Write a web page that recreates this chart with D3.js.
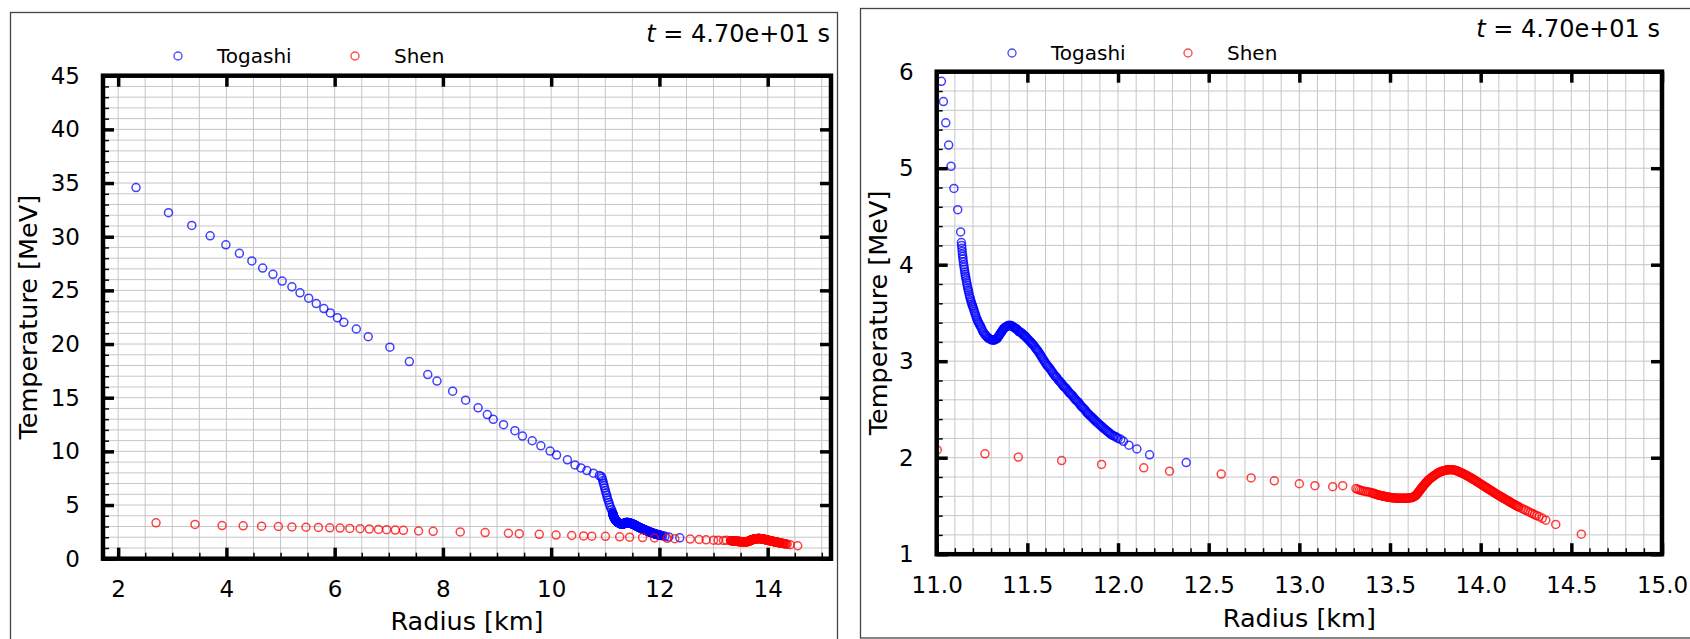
<!DOCTYPE html>
<html>
<head>
<meta charset="utf-8">
<script src="https://cdn.jsdelivr.net/npm/d3@7"></script>
<style>
  body { margin: 0; background: #fff; }
  svg { display: block; font-family: "DejaVu Sans", sans-serif; }
</style>
</head>
<body>
<div id="chart"></div>
<script>
"use strict";

// Temperature profiles at t = 47 s, [radius km, temperature MeV]
const togashiPoints = [
    [2.33, 34.58], [2.93, 32.24], [3.36, 31.05], [3.70, 30.08], [3.99, 29.24], [4.24, 28.45],
    [4.47, 27.74], [4.67, 27.08], [4.86, 26.49], [5.03, 25.87], [5.21, 25.33], [5.36, 24.77],
    [5.52, 24.27], [5.66, 23.77], [5.80, 23.30], [5.92, 22.90], [6.05, 22.46], [6.17, 22.02],
    [6.40, 21.40], [6.62, 20.68], [7.02, 19.71], [7.38, 18.37], [7.72, 17.15], [7.89, 16.55],
    [8.18, 15.61], [8.42, 14.77], [8.65, 14.06], [8.82, 13.43], [8.93, 12.99], [9.12, 12.49],
    [9.33, 11.93], [9.47, 11.43], [9.65, 10.99], [9.81, 10.52], [9.98, 10.03], [10.10, 9.65],
    [10.30, 9.21], [10.44, 8.74], [10.55, 8.46], [10.66, 8.21], [10.78, 7.97], [10.89, 7.74],
    [10.925, 7.66], [10.941, 7.50], [10.953, 7.27], [10.965, 7.04], [10.977, 6.81], [10.989, 6.58],
    [11.001, 6.35], [11.013, 6.12], [11.026, 5.90], [11.037, 5.69], [11.050, 5.47], [11.066, 5.24],
    [11.079, 5.02], [11.095, 4.79], [11.116, 4.57], [11.132, 4.34],
    [11.136, 4.23], [11.1375, 4.20], [11.139, 4.17], [11.1405, 4.14], [11.142, 4.11], [11.1435, 4.085],
    [11.145, 4.06], [11.147, 4.03], [11.149, 4.00], [11.151, 3.975], [11.153, 3.95], [11.155, 3.925],
    [11.157, 3.90], [11.159, 3.88], [11.161, 3.86], [11.1635, 3.835], [11.166, 3.81], [11.1685, 3.785],
    [11.171, 3.76], [11.1735, 3.74], [11.176, 3.72], [11.179, 3.695], [11.182, 3.67], [11.185, 3.65],
    [11.188, 3.63], [11.191, 3.61], [11.194, 3.59], [11.197, 3.575], [11.200, 3.56], [11.2035, 3.54],
    [11.207, 3.52], [11.2105, 3.50], [11.214, 3.48], [11.2175, 3.46], [11.221, 3.44], [11.2245, 3.425],
    [11.228, 3.41], [11.232, 3.395], [11.236, 3.38], [11.2405, 3.365], [11.245, 3.35], [11.2495, 3.33],
    [11.254, 3.31], [11.259, 3.295], [11.264, 3.28], [11.269, 3.27], [11.274, 3.26], [11.279, 3.25],
    [11.284, 3.24], [11.289, 3.235], [11.294, 3.23], [11.2985, 3.225], [11.303, 3.22], [11.3075, 3.22],
    [11.312, 3.22], [11.316, 3.22], [11.320, 3.22], [11.324, 3.225], [11.328, 3.23], [11.3315, 3.235],
    [11.335, 3.24], [11.3385, 3.25], [11.342, 3.26], [11.3455, 3.27], [11.349, 3.28], [11.3525, 3.29],
    [11.356, 3.30], [11.3595, 3.31], [11.363, 3.32], [11.3665, 3.33], [11.370, 3.34], [11.374, 3.345],
    [11.378, 3.35], [11.382, 3.355], [11.386, 3.36], [11.390, 3.365], [11.394, 3.37], [11.398, 3.37],
    [11.402, 3.37], [11.406, 3.37], [11.410, 3.37], [11.414, 3.365], [11.418, 3.36], [11.422, 3.355],
    [11.426, 3.35], [11.430, 3.345], [11.434, 3.34], [11.4385, 3.335], [11.443, 3.33], [11.4475, 3.32],
    [11.452, 3.31], [11.4565, 3.305], [11.461, 3.30], [11.4655, 3.295], [11.470, 3.29], [11.4745, 3.28],
    [11.479, 3.27], [11.4835, 3.265], [11.488, 3.26], [11.4925, 3.25], [11.497, 3.24], [11.502, 3.23],
    [11.507, 3.22], [11.512, 3.21], [11.517, 3.20], [11.522, 3.19], [11.527, 3.18], [11.532, 3.17],
    [11.537, 3.16], [11.542, 3.145], [11.547, 3.13], [11.552, 3.12], [11.557, 3.11], [11.562, 3.095],
    [11.567, 3.08], [11.572, 3.065], [11.577, 3.05], [11.582, 3.035], [11.587, 3.02], [11.592, 3.005],
    [11.597, 2.99], [11.602, 2.975], [11.607, 2.96], [11.6125, 2.95], [11.618, 2.94], [11.6235, 2.925],
    [11.629, 2.91], [11.6345, 2.895], [11.640, 2.88], [11.6455, 2.865], [11.651, 2.85], [11.6565, 2.84],
    [11.662, 2.83], [11.6675, 2.815], [11.673, 2.80], [11.6785, 2.79], [11.684, 2.78], [11.6895, 2.765],
    [11.695, 2.75], [11.7005, 2.74], [11.706, 2.73], [11.7115, 2.72], [11.717, 2.71], [11.7225, 2.695],
    [11.728, 2.68], [11.7335, 2.67], [11.739, 2.66], [11.7445, 2.65], [11.750, 2.64], [11.7555, 2.625],
    [11.761, 2.61], [11.7665, 2.60], [11.772, 2.59], [11.7775, 2.58], [11.783, 2.57], [11.7885, 2.555],
    [11.794, 2.54], [11.7995, 2.53], [11.805, 2.52], [11.8105, 2.51], [11.816, 2.50], [11.8215, 2.485],
    [11.827, 2.47], [11.833, 2.46], [11.838, 2.45], [11.844, 2.44], [11.849, 2.43], [11.855, 2.42],
    [11.860, 2.41], [11.866, 2.40], [11.871, 2.39], [11.877, 2.38], [11.882, 2.37], [11.888, 2.36],
    [11.894, 2.35], [11.900, 2.34], [11.906, 2.33], [11.912, 2.32], [11.918, 2.31], [11.924, 2.30],
    [11.930, 2.29], [11.937, 2.28], [11.943, 2.27], [11.950, 2.26], [11.956, 2.25], [11.963, 2.24],
    [11.970, 2.23], [11.978, 2.225], [11.985, 2.22], [11.993, 2.21], [12.000, 2.20], [12.015, 2.19],
    [12.030, 2.17], [12.060, 2.13], [12.104, 2.09], [12.174, 2.03], [12.376, 1.95]
];

const shenPoints = [
    [2.70, 3.34], [3.42, 3.19], [3.92, 3.09], [4.31, 3.06], [4.65, 3.03], [4.96, 3.00],
    [5.21, 2.96], [5.47, 2.93], [5.70, 2.91], [5.91, 2.88], [6.10, 2.85], [6.28, 2.82],
    [6.47, 2.79], [6.64, 2.76], [6.81, 2.73], [6.96, 2.70], [7.12, 2.67], [7.27, 2.64],
    [7.55, 2.58], [7.82, 2.55], [8.32, 2.49], [8.78, 2.43], [9.21, 2.37], [9.41, 2.33],
    [9.78, 2.27], [10.09, 2.20], [10.38, 2.16], [10.60, 2.12], [10.75, 2.10], [11.003, 2.08],
    [11.266, 2.04], [11.450, 2.006], [11.689, 1.97], [11.909, 1.93], [12.142, 1.895], [12.284, 1.86],
    [12.569, 1.83], [12.734, 1.79], [12.862, 1.76], [13.000, 1.73], [13.086, 1.71], [13.184, 1.70],
    [13.239, 1.71],
    [13.312, 1.680], [13.322, 1.672], [13.332, 1.665], [13.342, 1.660], [13.352, 1.655], [13.362, 1.651],
    [13.372, 1.648], [13.382, 1.645], [13.392, 1.640], [13.402, 1.634], [13.407, 1.631], [13.412, 1.628],
    [13.417, 1.625], [13.422, 1.621], [13.427, 1.618], [13.432, 1.615], [13.437, 1.612], [13.442, 1.610],
    [13.447, 1.608], [13.452, 1.606], [13.457, 1.604], [13.462, 1.602], [13.467, 1.600], [13.472, 1.598],
    [13.477, 1.596], [13.482, 1.594], [13.487, 1.592], [13.492, 1.591], [13.497, 1.589], [13.502, 1.588],
    [13.507, 1.586], [13.512, 1.585], [13.517, 1.584], [13.522, 1.583], [13.527, 1.582], [13.532, 1.581],
    [13.537, 1.580], [13.542, 1.580], [13.547, 1.580], [13.552, 1.580], [13.557, 1.580], [13.562, 1.580],
    [13.567, 1.580], [13.572, 1.580], [13.577, 1.580], [13.582, 1.580], [13.587, 1.580], [13.592, 1.581],
    [13.597, 1.581], [13.602, 1.582], [13.607, 1.583], [13.612, 1.584], [13.617, 1.586], [13.622, 1.588],
    [13.626, 1.591], [13.630, 1.594], [13.634, 1.598], [13.637, 1.602], [13.641, 1.607], [13.644, 1.612],
    [13.647, 1.618], [13.650, 1.625], [13.653, 1.632], [13.656, 1.640], [13.659, 1.647], [13.662, 1.655],
    [13.665, 1.662], [13.668, 1.670], [13.671, 1.677], [13.674, 1.685], [13.677, 1.692], [13.680, 1.700],
    [13.684, 1.708], [13.687, 1.716], [13.691, 1.723], [13.694, 1.731], [13.698, 1.738], [13.701, 1.746],
    [13.705, 1.753], [13.708, 1.760], [13.712, 1.767], [13.716, 1.774], [13.720, 1.780], [13.724, 1.787],
    [13.729, 1.793], [13.733, 1.800], [13.738, 1.806], [13.742, 1.813], [13.747, 1.819], [13.752, 1.826],
    [13.757, 1.832], [13.762, 1.838], [13.767, 1.843], [13.772, 1.848], [13.777, 1.852], [13.782, 1.856],
    [13.787, 1.860], [13.792, 1.863], [13.797, 1.866], [13.802, 1.868], [13.807, 1.870], [13.812, 1.872],
    [13.817, 1.874], [13.822, 1.875], [13.827, 1.876], [13.832, 1.876], [13.837, 1.876], [13.842, 1.876],
    [13.847, 1.875], [13.852, 1.873], [13.857, 1.871], [13.862, 1.868], [13.867, 1.865], [13.872, 1.861],
    [13.877, 1.857], [13.882, 1.853], [13.887, 1.849], [13.892, 1.844], [13.897, 1.840], [13.902, 1.835],
    [13.907, 1.831], [13.912, 1.826], [13.917, 1.821], [13.922, 1.816], [13.927, 1.811], [13.932, 1.806],
    [13.937, 1.801], [13.942, 1.795], [13.947, 1.790], [13.952, 1.784], [13.957, 1.779], [13.962, 1.773],
    [13.967, 1.767], [13.972, 1.761], [13.977, 1.755], [13.982, 1.749], [13.987, 1.743], [13.992, 1.737],
    [13.997, 1.731], [14.002, 1.725], [14.007, 1.719], [14.012, 1.713], [14.017, 1.707], [14.022, 1.701],
    [14.027, 1.695], [14.032, 1.689], [14.037, 1.683], [14.042, 1.677], [14.047, 1.671], [14.052, 1.665],
    [14.057, 1.659], [14.062, 1.653], [14.067, 1.647], [14.072, 1.641], [14.077, 1.635], [14.082, 1.629],
    [14.087, 1.623], [14.092, 1.617], [14.097, 1.612], [14.102, 1.606], [14.107, 1.601], [14.112, 1.595],
    [14.117, 1.590], [14.122, 1.584], [14.127, 1.579], [14.132, 1.573], [14.137, 1.568], [14.142, 1.562],
    [14.147, 1.557], [14.152, 1.551], [14.157, 1.546], [14.162, 1.540], [14.167, 1.535], [14.172, 1.529],
    [14.177, 1.524], [14.182, 1.518], [14.187, 1.513], [14.192, 1.508], [14.197, 1.503], [14.202, 1.498],
    [14.207, 1.493], [14.212, 1.488], [14.224, 1.477], [14.236, 1.466], [14.248, 1.455], [14.260, 1.444],
    [14.272, 1.433], [14.284, 1.422], [14.296, 1.411], [14.308, 1.400], [14.322, 1.390], [14.340, 1.372],
    [14.359, 1.353], [14.414, 1.308], [14.555, 1.207]
];

const seriesNames = ["Togashi", "Shen"];
const seriesColours = ["#0000ff", "#ff0000"];
const timeLabel = "4.70e+01 s";

const fullXTicks = [2, 4, 6, 8, 10, 12, 14];
const fullYTicks = [0, 5, 10, 15, 20, 25, 30, 35, 40, 45];
const zoomXTicks = [11.0, 11.5, 12.0, 12.5, 13.0, 13.5, 14.0, 14.5, 15.0];
const zoomYTicks = [1, 2, 3, 4, 5, 6];

// Layout of the two subplots: full profile on the left, close-up on the right
const panels = [
    {
        id: "full", frame: [10.5, 12.5, 827, 700],
        left: 103, right: 831, top: 75.7, bottom: 558.7,
        xDomain: [1.72, 15.17], yDomain: [0, 45],
        xTicks: fullXTicks, yTicks: fullYTicks, xFormat: d3.format("d"),
        xMinor: [2, 15, 0.5], yMinor: [0, 45, 1],
        legendX: [178, 355], legendY: 56, titleX: 830, titleY: 42,
        xLabelY: 630, yLabelX: 37
    },
    {
        id: "zoom", frame: [860.5, 8.5, 900, 629.5],
        left: 936.7, right: 1662, top: 71.7, bottom: 554.2,
        xDomain: [11, 15], yDomain: [1, 6],
        xTicks: zoomXTicks, yTicks: zoomYTicks, xFormat: d3.format(".1f"),
        xMinor: [11, 15, 0.1], yMinor: [1, 6, 0.2],
        legendX: [1012, 1188], legendY: 53, titleX: 1660, titleY: 37,
        xLabelY: 627, yLabelX: 887
    }
];

function styleAxis(sel, width, labelSize) {
    sel.select(".domain").remove();
    sel.attr("font-family", "DejaVu Sans").attr("font-size", labelSize);
    sel.selectAll(".tick line").attr("stroke", "#000").attr("stroke-width", width);
    sel.selectAll(".tick text").attr("fill", "#000");
}

function drawPanel(svg, p) {
    let x = d3.scaleLinear().domain(p.xDomain).range([p.left, p.right]);
    let y = d3.scaleLinear().domain(p.yDomain).range([p.bottom, p.top]);
    let g = svg.append("g").attr("id", p.id);

    // Border of the subplot figure
    g.append("rect").attr("x", p.frame[0]).attr("y", p.frame[1])
        .attr("width", p.frame[2]).attr("height", p.frame[3])
        .attr("fill", "none").attr("stroke", "#444").attr("stroke-width", 1.3);

    let xMinor = d3.range(p.xMinor[0], p.xMinor[1] + 1e-6, p.xMinor[2]);
    let yMinor = d3.range(p.yMinor[0], p.yMinor[1] + 1e-6, p.yMinor[2]);

    // Grid on every minor tick
    g.append("g").selectAll("line").data(xMinor).enter().append("line")
        .attr("x1", d => x(d)).attr("x2", d => x(d))
        .attr("y1", p.top).attr("y2", p.bottom)
        .attr("stroke", "#c6c6c6").attr("stroke-width", 1);
    g.append("g").selectAll("line").data(yMinor).enter().append("line")
        .attr("y1", d => y(d)).attr("y2", d => y(d))
        .attr("x1", p.left).attr("x2", p.right)
        .attr("stroke", "#c6c6c6").attr("stroke-width", 1);

    // Scatter points, clipped to the axes box
    let clipId = "clip-" + p.id;
    svg.append("clipPath").attr("id", clipId).append("rect")
        .attr("x", p.left).attr("y", p.top)
        .attr("width", p.right - p.left).attr("height", p.bottom - p.top);

    let marks = g.append("g").attr("clip-path", `url(#${clipId})`);
    [togashiPoints, shenPoints].forEach(function (points, i) {
        marks.append("g").selectAll("circle").data(points).enter().append("circle")
            .attr("cx", d => x(d[0])).attr("cy", d => y(d[1])).attr("r", 4)
            .attr("fill", "none").attr("stroke", seriesColours[i])
            .attr("stroke-opacity", 0.75).attr("stroke-width", 1.5);
    });

    // Minor ticks (left and bottom)
    g.append("g").attr("transform", `translate(0,${p.bottom})`)
        .call(d3.axisBottom(x).tickValues(xMinor).tickFormat("").tickSizeInner(-6).tickSizeOuter(0))
        .call(s => styleAxis(s, 1.5, 23));
    g.append("g").attr("transform", `translate(${p.left},0)`)
        .call(d3.axisLeft(y).tickValues(yMinor).tickFormat("").tickSizeInner(-6).tickSizeOuter(0))
        .call(s => styleAxis(s, 1.5, 23));

    // Major ticks on all four sides, labels bottom and left
    g.append("g").attr("transform", `translate(0,${p.bottom})`)
        .call(d3.axisBottom(x).tickValues(p.xTicks).tickFormat(p.xFormat)
            .tickSizeInner(-11).tickSizeOuter(0).tickPadding(22))
        .call(s => styleAxis(s, 3.5, 23));
    g.append("g").attr("transform", `translate(${p.left},0)`)
        .call(d3.axisLeft(y).tickValues(p.yTicks).tickFormat(d3.format("d"))
            .tickSizeInner(-11).tickSizeOuter(0).tickPadding(23))
        .call(s => styleAxis(s, 3.5, 23));
    g.append("g").attr("transform", `translate(0,${p.top})`)
        .call(d3.axisTop(x).tickValues(p.xTicks).tickFormat("").tickSizeInner(-11).tickSizeOuter(0))
        .call(s => styleAxis(s, 3.5, 23));
    g.append("g").attr("transform", `translate(${p.right},0)`)
        .call(d3.axisRight(y).tickValues(p.yTicks).tickFormat("").tickSizeInner(-11).tickSizeOuter(0))
        .call(s => styleAxis(s, 3.5, 23));

    // Spines
    g.append("rect").attr("x", p.left).attr("y", p.top)
        .attr("width", p.right - p.left).attr("height", p.bottom - p.top)
        .attr("fill", "none").attr("stroke", "#000").attr("stroke-width", 4.5);

    // Axis labels
    g.append("text").attr("x", (p.left + p.right) / 2).attr("y", p.xLabelY)
        .attr("text-anchor", "middle").attr("font-size", 25.5).text("Radius [km]");
    g.append("text")
        .attr("transform", `translate(${p.yLabelX},${(p.top + p.bottom) / 2}) rotate(-90)`)
        .attr("text-anchor", "middle").attr("font-size", 25.5).text("Temperature [MeV]");

    // Legend above the axes
    seriesNames.forEach(function (name, i) {
        g.append("circle").attr("cx", p.legendX[i]).attr("cy", p.legendY).attr("r", 4)
            .attr("fill", "none").attr("stroke", seriesColours[i])
            .attr("stroke-opacity", 0.7).attr("stroke-width", 1.4);
        g.append("text").attr("x", p.legendX[i] + 39).attr("y", p.legendY + 7)
            .attr("font-size", 20).text(name);
    });

    // Time stamp
    let title = g.append("text").attr("x", p.titleX).attr("y", p.titleY)
        .attr("text-anchor", "end").attr("font-size", 24);
    title.append("tspan").attr("font-style", "italic").text("t");
    title.append("tspan").text(" = " + timeLabel);
}

window.onload = function () {
    let svg = d3.select("#chart").append("svg")
        .attr("width", 1690).attr("height", 639);
    panels.forEach(p => drawPanel(svg, p));
};
</script>
</body>
</html>
